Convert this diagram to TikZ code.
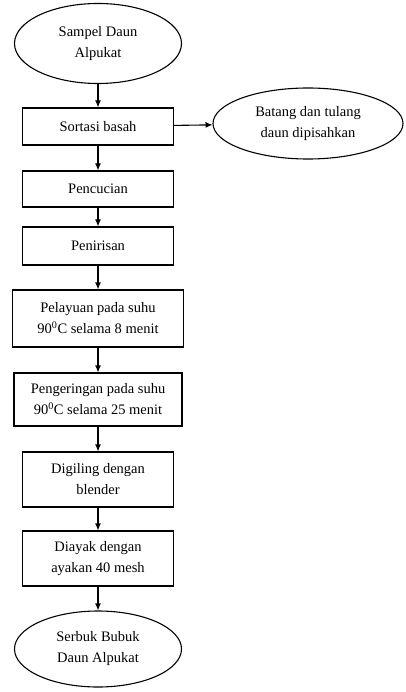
\documentclass[tikz,border=0pt]{standalone}
\usepackage{fontspec}
\setmainfont{Liberation Serif}
\usetikzlibrary{shapes.geometric,arrows.meta}

\tikzstyle{proses} = [rectangle,draw,line width=1.1pt,inner sep=0pt,align=center,font=\fontsize{14.5}{21}\selectfont]
\tikzstyle{ujung} = [ellipse,draw,line width=1.1pt,inner sep=0pt,align=center,font=\fontsize{14.5}{21}\selectfont]
\tikzstyle{panah} = [draw,line width=1.1pt,-{Latex[length=7pt,width=6pt]}]

\begin{document}
\begin{tikzpicture}[x=1pt,y=-1pt]
	\useasboundingbox (0,0) rectangle (406,692);
	\node[ujung,minimum width=167,minimum height=80] (n1) at (98,43.5) {Sampel Daun\\Alpukat};
	\node[proses,minimum width=151,minimum height=37] (n2) at (98,126.5) {Sortasi basah};
	\node[ujung,minimum width=190,minimum height=71] (n3) at (308,123.5) {Batang dan tulang\\daun dipisahkan};
	\node[proses,minimum width=151,minimum height=36] (n4) at (98,189) {Pencucian};
	\node[proses,minimum width=151,minimum height=38] (n5) at (98,246) {Penirisan};
	\node[proses,minimum width=171,minimum height=57] (n6) at (98,318.5) {Pelayuan pada suhu\\90\textsuperscript{0}C selama 8 menit};
	\node[proses,minimum width=168,minimum height=53] (n7) at (98,399.5) {Pengeringan pada suhu\\90\textsuperscript{0}C selama 25 menit};
	\node[proses,minimum width=151,minimum height=55] (n8) at (98,479.5) {Digiling dengan\\blender};
	\node[proses,minimum width=151,minimum height=55] (n9) at (98,558.5) {Diayak dengan\\ayakan 40 mesh};
	\node[ujung,minimum width=167,minimum height=76] (n10) at (98,649) {Serbuk Bubuk\\Daun Alpukat};
	
	\draw[panah] (n1) -- (n2);
	\draw[panah] (n2) -- (n3);
	\draw[panah] (n2) -- (n4);
	\draw[panah] (n4) -- (n5);
	\draw[panah] (n5) -- (n6);
	\draw[panah] (n6) -- (n7);
	\draw[panah] (n7) -- (n8);
	\draw[panah] (n8) -- (n9);
	\draw[panah] (n9) -- (n10);
	\end{tikzpicture}
\end{document}
